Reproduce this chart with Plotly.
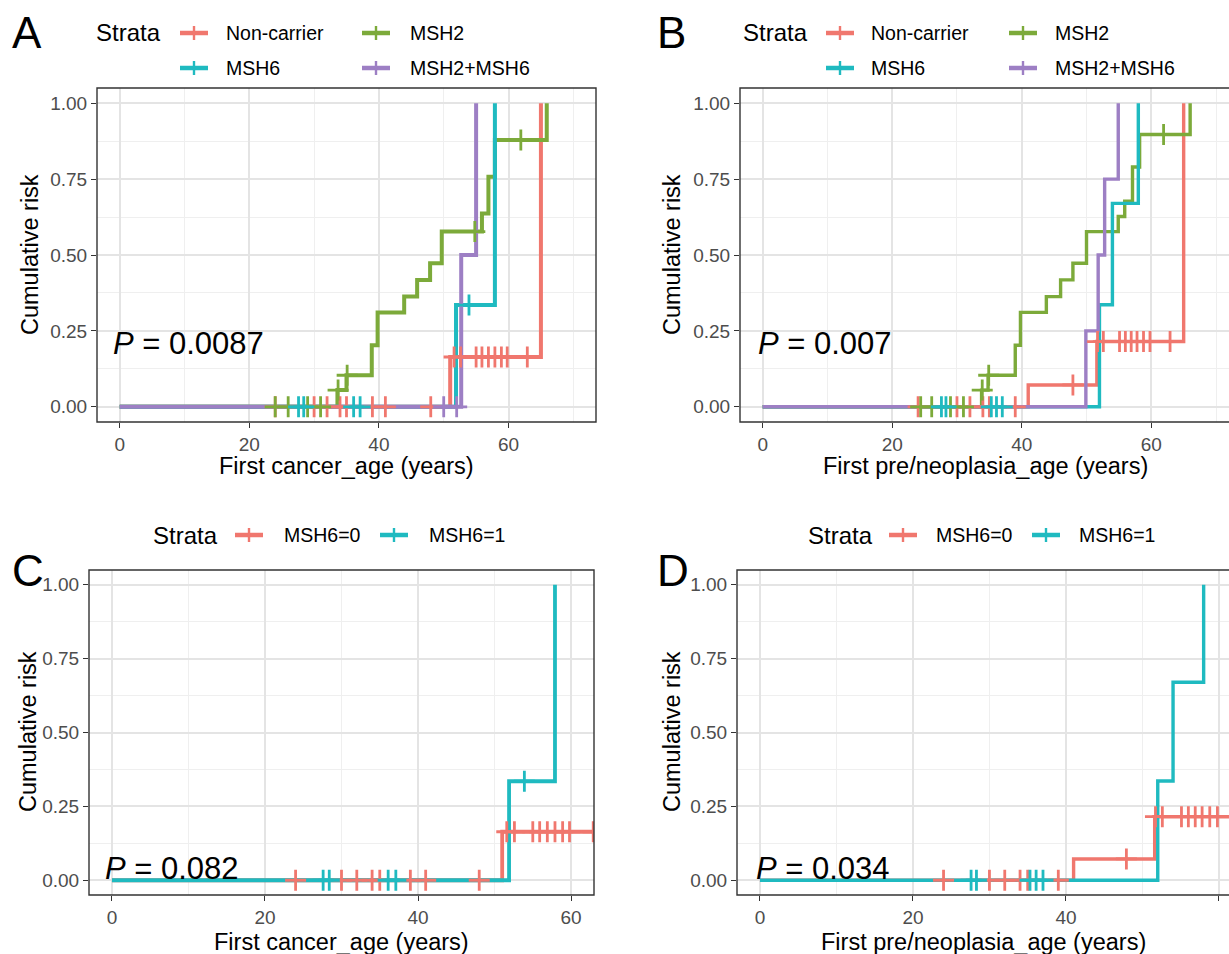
import plotly.graph_objects as go

# ---------------- data ----------------
# Panel A / C : first cancer age
nc_cancer_event_t = [51.0, 65.0]
nc_cancer_event_r = [0.164, 1.0]
nc_cancer_censor = [24.0, 30.0, 32.0, 34.0, 35.0, 39.0, 41.0, 48.0,
                    51.6, 52.6, 55.0, 55.9, 56.9, 57.9, 58.9, 59.8, 62.9]

msh2_cancer_event_t = [33.6, 35.0, 38.9, 39.8, 43.9, 45.9, 47.9, 49.7, 55.9, 56.9, 57.9, 65.9]
msh2_cancer_event_r = [0.055, 0.104, 0.203, 0.311, 0.363, 0.418, 0.473, 0.577, 0.637, 0.758, 0.879, 1.0]
msh2_cancer_censor = [24.0, 26.0, 29.0, 31.0, 33.7, 35.1, 54.8, 61.9]

msh6_cancer_event_t = [51.9, 57.9]
msh6_cancer_event_r = [0.335, 1.0]
msh6_cancer_censor = [27.6, 28.4, 36.1, 37.1, 53.9]

msh26_cancer_event_t = [52.7, 55.0]
msh26_cancer_event_r = [0.5, 1.0]
msh26_cancer_censor = [50.0, 52.0]

# Panel B / D : first pre/neoplasia age
nc_neo_event_t = [41.0, 51.6, 65.0]
nc_neo_event_r = [0.072, 0.215, 1.0]
nc_neo_censor = [24.0, 30.0, 32.0, 34.0, 35.0, 39.0, 47.9,
                 51.7, 52.6, 55.1, 56.0, 56.9, 57.8, 58.8, 59.8, 62.9]

msh2_neo_event_t = [33.8, 34.8, 39.0, 39.8, 43.8, 46.0, 47.9, 50.0, 54.9, 55.9, 57.1, 58.2, 66.0]
msh2_neo_event_r = [0.055, 0.104, 0.203, 0.311, 0.363, 0.418, 0.473, 0.577, 0.627, 0.677, 0.790, 0.897, 1.0]
msh2_neo_censor = [24.4, 26.1, 29.0, 31.0, 33.9, 34.9, 61.9]

msh6_neo_event_t = [52.0, 54.0, 58.0]
msh6_neo_event_r = [0.336, 0.670, 1.0]
msh6_neo_censor = [27.6, 28.3, 35.3, 36.1, 37.0]

msh26_neo_event_t = [49.9, 51.8, 52.8, 54.9]
msh26_neo_event_r = [0.25, 0.5, 0.75, 1.0]
msh26_neo_censor = []

strata4 = ["Non-carrier", "MSH2", "MSH6", "MSH2+MSH6"]
strata2 = ["MSH6=0", "MSH6=1"]
p_values = ["0.0087", "0.007", "0.082", "0.034"]
x_titles = ["First cancer_age (years)", "First pre/neoplasia_age (years)",
            "First cancer_age (years)", "First pre/neoplasia_age (years)"]
panel_letters = ["A", "B", "C", "D"]
x_ticks = [0, 20, 40, 60]
y_ticks = [0, 0.25, 0.5, 0.75, 1.0]
y_ticklabels = ["0.00", "0.25", "0.50", "0.75", "1.00"]

# ---------------- style ----------------
W, H = 1229, 954
RED, GREEN, CYAN, PURPLE = "#F0776E", "#7CAA3A", "#1FBAC0", "#9D7FC4"
FONT = "Liberation Sans, Arial, sans-serif"


def pxx(x):
    return x / W


def pxy(y):
    return 1 - y / H


def step_xy(et, er, ct):
    t_end = max(list(et) + list(ct))
    xs, ys = [0.0], [0.0]
    for t, r in zip(et, er):
        xs.append(t)
        ys.append(r)
    xs.append(t_end)
    ys.append(ys[-1])
    return xs, ys


def level_at(et, er, t):
    lv = 0.0
    for e, r in zip(et, er):
        if e <= t:
            lv = r
    return lv


panels = [
    ("", (97, 596), (88, 422), [-3.5, 73.5],
     [(nc_cancer_event_t, nc_cancer_event_r, nc_cancer_censor, RED),
      (msh2_cancer_event_t, msh2_cancer_event_r, msh2_cancer_censor, GREEN),
      (msh6_cancer_event_t, msh6_cancer_event_r, msh6_cancer_censor, CYAN),
      (msh26_cancer_event_t, msh26_cancer_event_r, msh26_cancer_censor, PURPLE)], 4.0, True),
    ("2", (740, 1229), (88, 422), [-3.5, 72.0],
     [(nc_neo_event_t, nc_neo_event_r, nc_neo_censor, RED),
      (msh2_neo_event_t, msh2_neo_event_r, msh2_neo_censor, GREEN),
      (msh6_neo_event_t, msh6_neo_event_r, msh6_neo_censor, CYAN),
      (msh26_neo_event_t, msh26_neo_event_r, msh26_neo_censor, PURPLE)], 3.4, False),
    ("3", (89, 594), (570, 895), [-3.0, 63.0],
     [(nc_cancer_event_t, nc_cancer_event_r, nc_cancer_censor, RED),
      (msh6_cancer_event_t, msh6_cancer_event_r, msh6_cancer_censor, CYAN)], 3.8, True),
    ("4", (737, 1229), (570, 895), [-3.0, -3.0 + 492 / 7.65],
     [(nc_neo_event_t, nc_neo_event_r, nc_neo_censor, RED),
      (msh6_neo_event_t, msh6_neo_event_r, msh6_neo_censor, CYAN)], 3.4, False),
]

fig = go.Figure()
layout = dict(width=W, height=H, margin=dict(l=0, r=0, t=0, b=0),
              paper_bgcolor="white", plot_bgcolor="white", showlegend=False,
              font=dict(family=FONT, color="black"))
shapes = []
annotations = []

for suf, xd, yd, xr, series, lw, full in panels:
    xa, ya = "x" + suf, "y" + suf
    for et, er, ct, col in series:
        xs, ys = step_xy(et, er, ct)
        fig.add_trace(go.Scatter(x=xs, y=ys, mode="lines", line=dict(color=col, width=lw, shape="hv"),
                                 xaxis=xa, yaxis=ya, hoverinfo="skip"))
    for et, er, ct, col in series:
        if ct:
            fig.add_trace(go.Scatter(x=ct, y=[level_at(et, er, t) for t in ct], mode="markers",
                                     marker=dict(symbol="cross-thin", size=15,
                                                 line=dict(color=col, width=2.8)),
                                     xaxis=xa, yaxis=ya, hoverinfo="skip"))
    axx = dict(domain=[pxx(xd[0]), pxx(xd[1])], range=xr, anchor=ya, tickmode="array",
               tickvals=x_ticks, ticktext=[str(v) for v in x_ticks], ticks="outside", ticklen=5,
               tickwidth=1.4, tickcolor="#333333", tickfont=dict(size=19, color="#4D4D4D"),
               showgrid=True, gridcolor="#E4E4E4", gridwidth=1.8, zeroline=False, showline=False,
               minor=dict(tickmode="array", tickvals=[10, 30, 50, 70], showgrid=True,
                          gridcolor="#EFEFEF", gridwidth=1, ticks=""))
    axy = dict(domain=[pxy(yd[1]), pxy(yd[0])], range=[-0.05, 1.05], anchor=xa, tickmode="array",
               tickvals=y_ticks, ticktext=y_ticklabels, ticks="outside", ticklen=5,
               tickwidth=1.4, tickcolor="#333333", tickfont=dict(size=19, color="#4D4D4D"),
               showgrid=True, gridcolor="#E4E4E4", gridwidth=1.8, zeroline=False, showline=False,
               minor=dict(tickmode="array", tickvals=[0.125, 0.375, 0.625, 0.875], showgrid=True,
                          gridcolor="#EFEFEF", gridwidth=1, ticks=""))
    layout["xaxis" + suf] = axx
    layout["yaxis" + suf] = axy
    shapes.append(dict(type="rect", xref=xa + " domain", yref=ya + " domain", x0=0, y0=0,
                       x1=1 if full else 1.05, y1=1, line=dict(color="#333333", width=1.4),
                       fillcolor="rgba(0,0,0,0)", layer="above"))


def ann(text, x, y, size, xanchor="left", yanchor="middle", angle=0, color="black"):
    annotations.append(dict(text=text, x=pxx(x), y=pxy(y), xref="paper", yref="paper",
                            showarrow=False, xanchor=xanchor, yanchor=yanchor, textangle=angle,
                            font=dict(size=size, color=color, family=FONT)))


for lab, x, y in zip(panel_letters, [10, 655, 10, 655], [33, 33, 570, 570]):
    ann(lab, x, y, 44)

for pv, x, y in zip(p_values, [111, 756, 103, 754], [343, 343, 868, 868]):
    ann("<i>P</i> = " + pv, x, y, 31)

for t, x, y in zip(x_titles, [346, 985, 341, 983], [466, 466, 942, 942]):
    ann(t, x, y, 23.5, xanchor="center")
for x, y in zip([30, 672, 28, 672], [255, 255, 732, 732]):
    ann("Cumulative risk", x, y, 23.5, xanchor="center", angle=-90)


def key(x, y, col):
    shapes.append(dict(type="line", xref="paper", yref="paper", x0=pxx(x), x1=pxx(x + 28),
                       y0=pxy(y), y1=pxy(y), line=dict(color=col, width=4.5)))
    shapes.append(dict(type="line", xref="paper", yref="paper", x0=pxx(x + 14), x1=pxx(x + 14),
                       y0=pxy(y - 7), y1=pxy(y + 7), line=dict(color=col, width=2.4)))


def legend4(x0, y0, kx1, tx1, kx2, tx2, dy):
    ann("Strata", x0, y0, 24)
    cols = [RED, GREEN, CYAN, PURPLE]
    pos = [(kx1, tx1, y0), (kx2, tx2, y0), (kx1, tx1, y0 + dy), (kx2, tx2, y0 + dy)]
    for name, col, (kx, tx, yy) in zip(strata4, cols, pos):
        key(kx, yy, col)
        ann(name, tx, yy, 19.5)


def legend2(x0, y0, kx1, tx1, kx2, tx2):
    ann("Strata", x0, y0, 24)
    for name, col, kx, tx in zip(strata2, [RED, CYAN], [kx1, kx2], [tx1, tx2]):
        key(kx, y0, col)
        ann(name, tx, y0, 19.5)


legend4(94, 33, 180, 224, 362, 408, 35)
legend4(741, 33, 826, 869, 1009, 1053, 35)
legend2(151, 535, 235, 282, 380, 427)
legend2(806, 535, 889, 934, 1032, 1077)

layout["shapes"] = shapes
layout["annotations"] = annotations
fig.update_layout(**layout)
fig.write_html("out.html", config={"displayModeBar": False},
               post_script="document.body.style.margin='0px';document.body.style.overflow='hidden';")
